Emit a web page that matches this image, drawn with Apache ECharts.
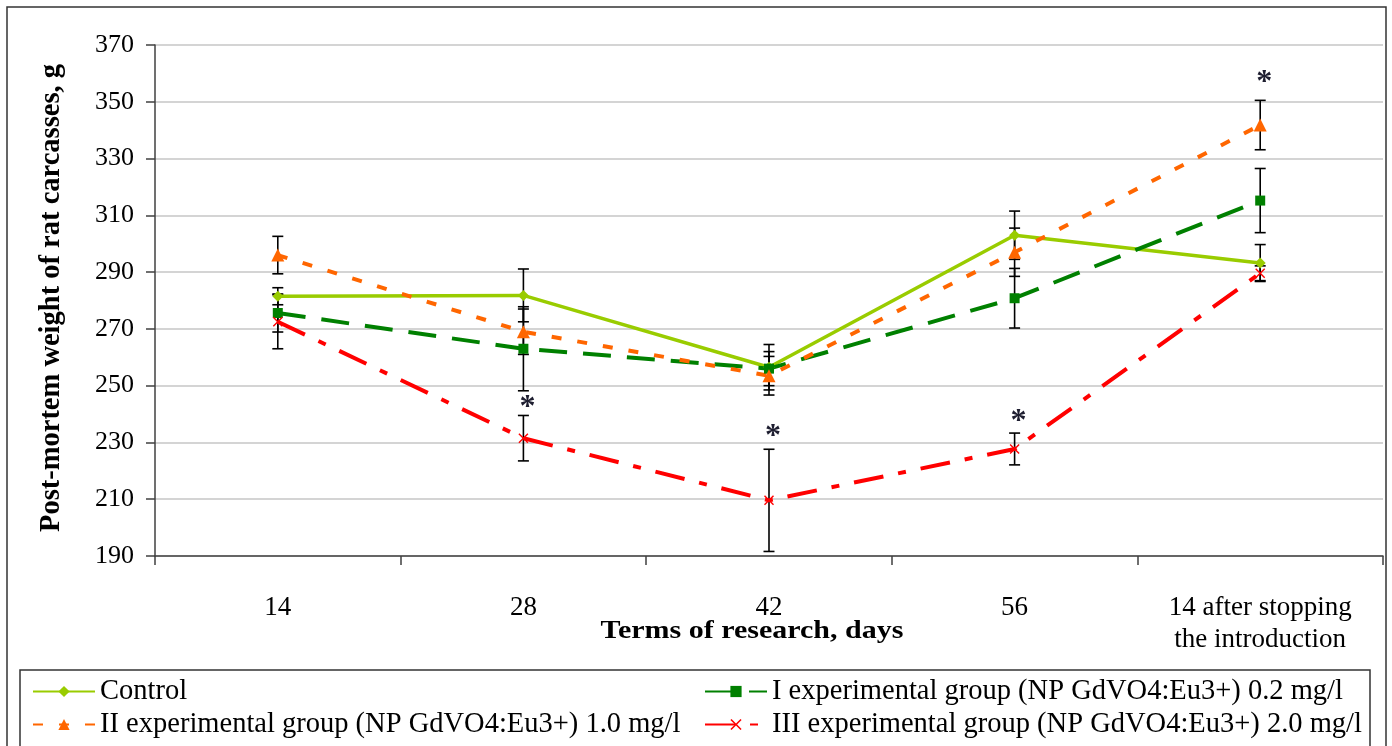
<!DOCTYPE html>
<html><head><meta charset="utf-8">
<script src="https://cdn.jsdelivr.net/npm/echarts@6/dist/echarts.min.js"></script>
<style>html,body{margin:0;padding:0;background:#fff}#c{width:1392px;height:746px}</style>
</head><body><div id="c"></div>
<script>
const categories = ['14', '28', '42', '56', '14 after stopping\nthe introduction'];
const yTicks = [190, 210, 230, 250, 270, 290, 310, 330, 350, 370];
const seriesNames = ['Control', 'I experimental group (NP GdVO4:Eu3+) 0.2 mg/l', 'II experimental group (NP GdVO4:Eu3+) 1.0 mg/l', 'III experimental group (NP GdVO4:Eu3+) 2.0 mg/l'];
const control = [281.5, 281.8, 256.5, 303.0, 293.2];
const controlErr = [3.0, 9.3, 8.0, 8.5, 6.5];
const groupI = [275.6, 263.0, 256.0, 280.8, 315.2];
const groupIErr = [6.7, 14.8, 6.0, 10.5, 11.3];
const groupII = [296.0, 269.0, 253.5, 297.0, 341.8];
const groupIIErr = [6.6, 8.0, 6.8, 8.5, 8.7];
const groupIII = [272.5, 231.5, 209.6, 227.7, 289.6];
const groupIIIErr = [9.5, 8.0, 18.0, 5.6, 2.6];
const asteriskCats = [1, 2, 3, 4];
const asteriskVals = [244.7, 234.5, 239.7, 359.0];

const FONT = 'Liberation Serif';
const colors = ['#99CC00', '#008000', '#FF6600', '#FF0000'];
const values = [control, groupI, groupII, groupIII];
const errs = [controlErr, groupIErr, groupIIErr, groupIIIErr];
const symbols = ['diamond', 'rect', 'triangle', 'path://M0,1 L1,0 L5,4 L9,0 L10,1 L6,5 L10,9 L9,10 L5,6 L1,10 L0,9 L4,5 Z'];
const symbolSizes = [11, 10, 13, 10];
const dashes = ['solid', [28, 16], [10, 16], [30, 15, 8, 15]];
const widths = [3.5, 4, 4, 4];

const chart = echarts.init(document.getElementById('c'), null, {renderer: 'canvas'});

const lineSeries = values.map((v, k) => ({
  name: seriesNames[k], type: 'line', data: v, z: 3,
  symbol: symbols[k], symbolSize: symbolSizes[k], showSymbol: true,
  itemStyle: {color: colors[k]},
  lineStyle: {color: colors[k], width: widths[k], type: dashes[k]},
  emphasis: {disabled: true}, animation: false
}));

const errSeries = values.map((v, k) => ({
  type: 'custom', z: 2, animation: false, silent: true,
  data: v.map((y, i) => [i, y - errs[k][i], y + errs[k][i]]),
  renderItem: function (params, api) {
    const lo = api.coord([api.value(0), api.value(1)]);
    const hi = api.coord([api.value(0), api.value(2)]);
    const x = lo[0], w = 5.5;
    const st = {stroke: '#000', lineWidth: 1.6};
    return {type: 'group', children: [
      {type: 'line', shape: {x1: x, y1: lo[1], x2: x, y2: hi[1]}, style: st},
      {type: 'line', shape: {x1: x - w, y1: lo[1], x2: x + w, y2: lo[1]}, style: st},
      {type: 'line', shape: {x1: x - w, y1: hi[1], x2: x + w, y2: hi[1]}, style: st}
    ]};
  }
}));

const starSeries = {
  type: 'custom', z: 4, animation: false, silent: true,
  data: asteriskCats.map((c, i) => [c, asteriskVals[i]]),
  renderItem: function (params, api) {
    const p = api.coord([api.value(0), api.value(1)]);
    return {type: 'text', x: p[0] + 4, y: p[1] + 7, style: {text: '*', fontSize: 32, fontWeight: 'bold', fontFamily: FONT, fill: '#1e1e30', align: 'center', verticalAlign: 'middle'}};
  }
};

const legendText = {fontFamily: FONT, fontSize: 28.5, color: '#000'};
chart.setOption({
  animation: false,
  grid: {left: 155, right: 9, top: 45, bottom: 190, containLabel: false},
  xAxis: {
    type: 'category', data: categories, boundaryGap: true,
    axisLine: {lineStyle: {color: '#404040', width: 1.5}},
    axisTick: {show: true, length: 9, lineStyle: {color: '#404040', width: 1.5}},
    axisLabel: {fontFamily: FONT, fontSize: 27, color: '#000', margin: 36, lineHeight: 32},
    splitLine: {show: false}
  },
  yAxis: {
    type: 'value', min: yTicks[0], max: yTicks[yTicks.length - 1], interval: 20,
    axisLine: {show: true, lineStyle: {color: '#404040', width: 1.5}},
    axisTick: {show: true, length: 9, lineStyle: {color: '#404040', width: 1.5}},
    axisLabel: {fontFamily: FONT, fontSize: 26, color: '#000', margin: 21},
    splitLine: {show: true, lineStyle: {color: '#D4D4D4', width: 2}}
  },
  legend: [
    {data: [seriesNames[0], seriesNames[2]], orient: 'vertical', left: 32, top: 677, itemGap: 4,
     itemWidth: 62, itemHeight: 14, textStyle: legendText, selectedMode: false, padding: 0},
    {data: [seriesNames[1], seriesNames[3]], orient: 'vertical', left: 704, top: 677, itemGap: 4,
     itemWidth: 62, itemHeight: 14, textStyle: legendText, selectedMode: false, padding: 0}
  ],
  graphic: [
    {type: 'rect', shape: {x: 7, y: 7, width: 1379, height: 760}, style: {fill: 'none', stroke: '#333', lineWidth: 1.5}, z: 0},
    {type: 'rect', shape: {x: 20, y: 670, width: 1350, height: 90}, style: {fill: 'none', stroke: '#333', lineWidth: 1.5}, z: 0},
    {type: 'text', x: 752, y: 632, scaleX: 1.2, style: {text: 'Terms of research, days', fontFamily: FONT, fontSize: 25, fontWeight: 'bold', fill: '#000', align: 'center', verticalAlign: 'middle'}},
    {type: 'text', x: 52, y: 298, rotation: Math.PI / 2, style: {text: 'Post-mortem weight of rat carcasses, g', fontFamily: FONT, fontSize: 28.5, fontWeight: 'bold', fill: '#000', align: 'center', verticalAlign: 'middle'}}
  ],
  series: [...errSeries, ...lineSeries, starSeries]
});
</script></body></html>
